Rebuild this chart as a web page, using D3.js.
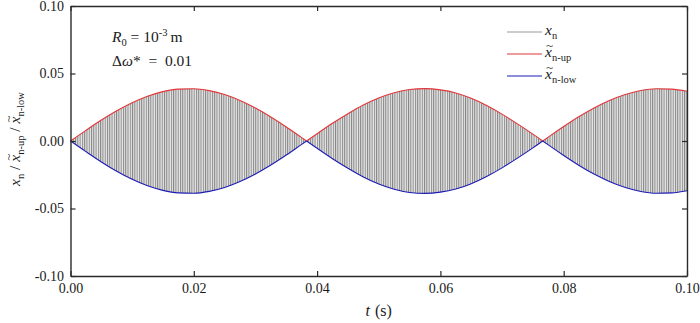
<!DOCTYPE html>
<html>
<head>
<meta charset="utf-8">
<script src="https://cdn.jsdelivr.net/npm/d3@7"></script>
<style>
  body { margin: 0; background: #fff; }
  svg { display: block; }
  svg text { font-family: "Liberation Serif", "Times New Roman", serif; fill: #1a1a1a; white-space: pre; }
</style>
</head>
<body>
<svg id="chart"></svg>
<script>
const times = [0, 0.0025, 0.005, 0.0075, 0.01, 0.0125, 0.015, 0.0175, 0.02, 0.0225, 0.025,
  0.0275, 0.03, 0.0325, 0.035, 0.0375, 0.0383, 0.04, 0.0425, 0.045, 0.0475, 0.05, 0.0525,
  0.055, 0.0575, 0.06, 0.0625, 0.065, 0.0675, 0.07, 0.0725, 0.075, 0.0766, 0.0775, 0.08,
  0.0825, 0.085, 0.0875, 0.09, 0.0925, 0.095, 0.0975, 0.1];

// upper envelope  x~n-up
const envUp = [0, 0.0079, 0.0155, 0.0224, 0.0284, 0.0332, 0.0366, 0.0384, 0.0387, 0.0373, 0.0344,
  0.0300, 0.0244, 0.0178, 0.0104, 0.0025, 0, 0.0054, 0.0131, 0.0202, 0.0266, 0.0318, 0.0357,
  0.0381, 0.0388, 0.0379, 0.0356, 0.0316, 0.0263, 0.0199, 0.0127, 0.0051, 0, 0.0029, 0.0107,
  0.0181, 0.0247, 0.0302, 0.0345, 0.0374, 0.0387, 0.0384, 0.0368];

// lower envelope  x~n-low
const envLow = [0, -0.0079, -0.0155, -0.0224, -0.0284, -0.0332, -0.0366, -0.0384, -0.0387, -0.0373, -0.0344,
  -0.0300, -0.0244, -0.0178, -0.0104, -0.0025, 0, -0.0054, -0.0131, -0.0202, -0.0266, -0.0318, -0.0357,
  -0.0381, -0.0388, -0.0379, -0.0356, -0.0316, -0.0263, -0.0199, -0.0127, -0.0051, 0, -0.0029, -0.0107,
  -0.0181, -0.0247, -0.0302, -0.0345, -0.0374, -0.0387, -0.0384, -0.0368];

// spacing of the fast x_n strokes (s), as seen on the plot
const strokeSpacing = 0.00037;

const xTicks = [0, 0.02, 0.04, 0.06, 0.08, 0.10];
const yTicks = [-0.10, -0.05, 0, 0.05, 0.10];

const legendNames = [["x", "n", false], ["x", "n-up", true], ["x", "n-low", true]];
const legendColors = ["#9a9a9a", "#e2363a", "#1c1cb4"];

function getConfig() {
  let width = 700;
  let height = 323;
  let margin = { top: 6, bottom: 47, left: 70.5, right: 13 };
  let bodyWidth = width - margin.left - margin.right;
  let bodyHeight = height - margin.top - margin.bottom;
  let container = d3.select("#chart").attr("width", width).attr("height", height);
  return { width, height, margin, bodyWidth, bodyHeight, container };
}

function getScales(config) {
  let xScale = d3.scaleLinear().domain([0, 0.1]).range([0, config.bodyWidth]);
  let yScale = d3.scaleLinear().domain([-0.1, 0.1]).range([config.bodyHeight, 0]);
  return { xScale, yScale };
}

// lay out a run of text pieces one after the other; tilde pieces get a "~" above them
function richText(g, segs, anchor) {
  let x = 0;
  segs.forEach(s => {
    let t = g.append("text")
      .attr("x", x)
      .attr("y", s.dy || 0)
      .attr("font-size", s.size)
      .attr("font-style", s.italic ? "italic" : null)
      .text(s.text);
    let w = t.node().getComputedTextLength();
    if (s.tilde) {
      g.append("text")
        .attr("x", x + w / 2 + 1)
        .attr("y", -7)
        .attr("text-anchor", "middle")
        .attr("font-size", s.size * 0.85)
        .text("~");
    }
    x += w + (s.gap || 0);
  });
  if (anchor === "middle") {
    g.selectAll("text").attr("x", function() { return +d3.select(this).attr("x") - x / 2; });
  }
  return x;
}

function drawSignal(scales, config) {
  let { xScale, yScale } = scales;
  let { container, margin } = config;

  let pw = xScale(strokeSpacing) - xScale(0);
  let pat = container.append("defs").append("pattern")
    .attr("id", "strokes")
    .attr("patternUnits", "userSpaceOnUse")
    .attr("x", margin.left)
    .attr("width", pw)
    .attr("height", 10);
  pat.append("rect").attr("width", pw).attr("height", 10).attr("fill", "#e6e6e6");
  pat.append("rect").attr("x", 0).attr("width", 1.0).attr("height", 10).attr("fill", "#858585");

  let rows = times.map((t, i) => ({ t, up: envUp[i], low: envLow[i] }));

  // split into lobes at the envelope nodes so the crossings stay sharp
  let lobes = [];
  let start = 0;
  rows.forEach((d, i) => {
    if (i > 0 && (d.up === 0 || i === rows.length - 1)) {
      lobes.push(rows.slice(start, i + 1));
      start = i;
    }
  });

  let area = d3.area()
    .x(d => margin.left + xScale(d.t))
    .y0(d => margin.top + yScale(d.low))
    .y1(d => margin.top + yScale(d.up))
    .curve(d3.curveMonotoneX);

  container.append("g").selectAll("path")
    .data(lobes)
    .enter()
    .append("path")
    .attr("d", area)
    .attr("fill", "url(#strokes)");

  let line = key => d3.line()
    .x(d => margin.left + xScale(d.t))
    .y(d => margin.top + yScale(d[key]))
    .curve(d3.curveMonotoneX);

  container.append("g").selectAll("path")
    .data(lobes)
    .enter()
    .append("path")
    .attr("d", line("up"))
    .attr("fill", "none").attr("stroke", legendColors[1]).attr("stroke-width", 1.1);

  container.append("g").selectAll("path")
    .data(lobes)
    .enter()
    .append("path")
    .attr("d", line("low"))
    .attr("fill", "none").attr("stroke", legendColors[2]).attr("stroke-width", 1.1);
}

function drawAxes(scales, config) {
  let { xScale, yScale } = scales;
  let { container, margin, bodyWidth, bodyHeight } = config;
  let fmt = d3.format(".2f");

  let gX = container.append("g")
    .attr("transform", `translate(${margin.left},${margin.top + bodyHeight})`)
    .call(d3.axisBottom(xScale).tickValues(xTicks).tickFormat(fmt)
      .tickSizeInner(-5).tickSizeOuter(0).tickPadding(7));

  let gY = container.append("g")
    .attr("transform", `translate(${margin.left},${margin.top})`)
    .call(d3.axisLeft(yScale).tickValues(yTicks).tickFormat(d => fmt(d).replace("\u2212", "-"))
      .tickSizeInner(-5).tickSizeOuter(0).tickPadding(6.5));

  let gTop = container.append("g")
    .attr("transform", `translate(${margin.left},${margin.top})`)
    .call(d3.axisTop(xScale).tickValues(xTicks).tickFormat("")
      .tickSizeInner(-5).tickSizeOuter(0));

  let gRight = container.append("g")
    .attr("transform", `translate(${margin.left + bodyWidth},${margin.top})`)
    .call(d3.axisRight(yScale).tickValues(yTicks).tickFormat("")
      .tickSizeInner(-5).tickSizeOuter(0));

  [gX, gY, gTop, gRight].forEach(g => {
    g.attr("font-family", null);
    g.select(".domain").attr("stroke", "#2a2a2a").attr("stroke-width", 1.4);
    g.selectAll(".tick line").attr("stroke", "#2a2a2a").attr("stroke-width", 1.2);
    g.selectAll(".tick text").attr("font-size", 14).attr("fill", "#1a1a1a");
  });

  // x axis title
  let gxt = container.append("g")
    .attr("transform", `translate(${margin.left + bodyWidth / 2},316)`);
  richText(gxt, [
    { text: "t", italic: true, size: 16, gap: 5 },
    { text: "(s)", size: 16 }
  ], "middle");

  // y axis title, rotated
  let gyt = container.append("g")
    .attr("transform", `translate(20,139) rotate(-90)`);
  richText(gyt, [
    { text: "x", italic: true, size: 15.5 },
    { text: "n", size: 10.5, dy: 4 },
    { text: " / ", size: 15.5 },
    { text: "x", italic: true, size: 15.5, tilde: true },
    { text: "n-up", size: 10.5, dy: 4 },
    { text: " / ", size: 15.5 },
    { text: "x", italic: true, size: 15.5, tilde: true },
    { text: "n-low", size: 10.5, dy: 4 }
  ], "middle");
}

function drawNotes(config) {
  let { container } = config;
  let g1 = container.append("g").attr("transform", "translate(112,42)");
  richText(g1, [
    { text: "R", italic: true, size: 15.5 },
    { text: "0", size: 10.5, dy: 4 },
    { text: " = 10", size: 15.5 },
    { text: "-3", size: 10.5, dy: -6, gap: 3 },
    { text: "m", size: 15.5 }
  ]);

  let g2 = container.append("g").attr("transform", "translate(112,66)");
  richText(g2, [
    { text: "\u0394", size: 15.5 },
    { text: "\u03c9", italic: true, size: 15.5 },
    { text: "*  =  0.01", size: 15.5 }
  ]);
}

function drawLegend(config) {
  let { container } = config;
  let ys = [32, 54, 76];
  legendNames.forEach((n, i) => {
    container.append("line")
      .attr("x1", 507).attr("x2", 542).attr("y1", ys[i]).attr("y2", ys[i])
      .attr("stroke", legendColors[i]).attr("stroke-width", 1.1);
    let g = container.append("g").attr("transform", `translate(545,${ys[i] + 3})`);
    richText(g, [
      { text: n[0], italic: true, size: 15.5, tilde: n[2] },
      { text: n[1], size: 10.5, dy: 4 }
    ]);
  });
}

let store = {};
store.config = getConfig();
store.scales = getScales(store.config);
drawSignal(store.scales, store.config);
drawAxes(store.scales, store.config);
drawNotes(store.config);
drawLegend(store.config);
</script>
</body>
</html>
